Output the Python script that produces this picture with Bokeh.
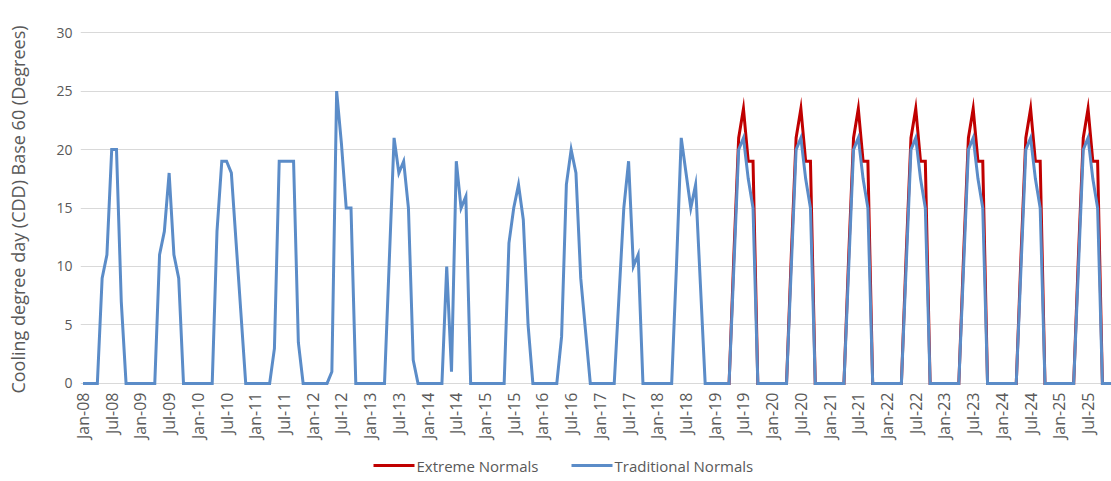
import math
from bokeh.plotting import figure
from bokeh.layouts import column
from bokeh.models import Range1d, FixedTicker
from bokeh.core.properties import value
from bokeh.embed import file_html
from bokeh.resources import INLINE

# ---------------- data ----------------
tick_labels = ["Jan-08", "Jul-08", "Jan-09", "Jul-09", "Jan-10", "Jul-10",
               "Jan-11", "Jul-11", "Jan-12", "Jul-12", "Jan-13", "Jul-13",
               "Jan-14", "Jul-14", "Jan-15", "Jul-15", "Jan-16", "Jul-16",
               "Jan-17", "Jul-17", "Jan-18", "Jul-18", "Jan-19", "Jul-19",
               "Jan-20", "Jul-20", "Jan-21", "Jul-21", "Jan-22", "Jul-22",
               "Jan-23", "Jul-23", "Jan-24", "Jul-24", "Jan-25", "Jul-25"]

# Traditional Normals, monthly CDD (Jan..Dec)
trad_2008 = [0, 0, 0, 0, 9, 11, 20, 20, 7, 0, 0, 0]
trad_2009 = [0, 0, 0, 0, 11, 13, 18, 11, 9, 0, 0, 0]
trad_2010 = [0, 0, 0, 0, 13, 19, 19, 18, 12, 6, 0, 0]
trad_2011 = [0, 0, 0, 0, 3, 19, 19, 19, 19, 3.5, 0, 0]
trad_2012 = [0, 0, 0, 0, 1, 25, 20.5, 15, 15, 0, 0, 0]
trad_2013 = [0, 0, 0, 0, 10.5, 21, 18, 19, 15, 2, 0, 0]
trad_2014 = [0, 0, 0, 0, 10, 1, 19, 15, 16, 0, 0, 0]
trad_2015 = [0, 0, 0, 0, 0, 12, 15, 17, 14, 5, 0, 0]
trad_2016 = [0, 0, 0, 0, 4, 17, 20, 18, 9, 4.5, 0, 0]
trad_2017 = [0, 0, 0, 0, 7.5, 15, 19, 10, 11, 0, 0, 0]
trad_2018 = [0, 0, 0, 0, 10, 21, 18, 15, 17, 8.5, 0, 0]
trad_2019 = [0, 0, 0, 0, 10, 20, 21, 17.5, 15, 0, 0, 0]
trad_2020 = [0, 0, 0, 0, 10, 20, 21, 17.5, 15, 0, 0, 0]
trad_2021 = [0, 0, 0, 0, 10, 20, 21, 17.5, 15, 0, 0, 0]
trad_2022 = [0, 0, 0, 0, 10, 20, 21, 17.5, 15, 0, 0, 0]
trad_2023 = [0, 0, 0, 0, 10, 20, 21, 17.5, 15, 0, 0, 0]
trad_2024 = [0, 0, 0, 0, 10, 20, 21, 17.5, 15, 0, 0, 0]
trad_2025 = [0, 0, 0, 0, 10, 20, 21, 17.5, 15, 0, 0, 0]

# Extreme Normals, monthly CDD (Jan..Dec), 2019 onward
ext_2019 = [0, 0, 0, 0, 11, 21, 23.5, 19, 19, 0, 0, 0]
ext_2020 = [0, 0, 0, 0, 11, 21, 23.5, 19, 19, 0, 0, 0]
ext_2021 = [0, 0, 0, 0, 11, 21, 23.5, 19, 19, 0, 0, 0]
ext_2022 = [0, 0, 0, 0, 11, 21, 23.5, 19, 19, 0, 0, 0]
ext_2023 = [0, 0, 0, 0, 11, 21, 23.5, 19, 19, 0, 0, 0]
ext_2024 = [0, 0, 0, 0, 11, 21, 23.5, 19, 19, 0, 0, 0]
ext_2025 = [0, 0, 0, 0, 11, 21, 23.5, 19, 19, 0, 0, 0]

series_names = ["Extreme Normals", "Traditional Normals"]
y_title = "Cooling degree day (CDD) Base 60 (Degrees)"

first_year = 2008
ext_first_year = 2019

traditional = (trad_2008 + trad_2009 + trad_2010 + trad_2011 + trad_2012 +
               trad_2013 + trad_2014 + trad_2015 + trad_2016 + trad_2017 +
               trad_2018 + trad_2019 + trad_2020 + trad_2021 + trad_2022 +
               trad_2023 + trad_2024 + trad_2025)
extreme = (ext_2019 + ext_2020 + ext_2021 + ext_2022 + ext_2023 +
           ext_2024 + ext_2025)

trad_x = list(range(len(traditional)))
ext_offset = (ext_first_year - first_year) * 12
ext_x = [ext_offset + i for i in range(len(extreme))]

# ---------------- styling ----------------
FONT = "Open Sans"
TEXT = "#595959"
RED = "#C00000"
BLUE = "#5B8CC8"
COLORS = [RED, BLUE]

p = figure(width=1111, height=447,
           x_range=Range1d(-0.52, 214.9), y_range=Range1d(-0.35, 30.1),
           output_backend="svg", toolbar_location=None,
           min_border_left=80, min_border_right=0,
           min_border_top=31, min_border_bottom=60)
p.outline_line_color = None
p.background_fill_color = "white"
p.border_fill_color = "white"

p.xgrid.visible = False
p.ygrid.grid_line_color = "#D9D9D9"
p.ygrid.grid_line_width = 1

p.yaxis.ticker = FixedTicker(ticks=[0, 5, 10, 15, 20, 25, 30])
p.yaxis.axis_line_color = None
p.yaxis.major_tick_line_color = None
p.yaxis.minor_tick_line_color = None
p.yaxis.major_tick_out = 0
p.yaxis.major_tick_in = 0
p.yaxis.major_label_standoff = 8
p.yaxis.major_label_text_font = FONT
p.yaxis.major_label_text_font_size = "14px"
p.yaxis.major_label_text_color = TEXT
p.yaxis.axis_label = y_title
p.yaxis.axis_label_text_font = FONT
p.yaxis.axis_label_text_font_size = "18px"
p.yaxis.axis_label_text_font_style = "normal"
p.yaxis.axis_label_text_color = TEXT
p.yaxis.axis_label_standoff = 23

tick_pos = [i * 6 for i in range(len(tick_labels))]
p.xaxis.ticker = FixedTicker(ticks=tick_pos)
p.xaxis.major_label_overrides = {t: lab for t, lab in zip(tick_pos, tick_labels)}
p.xaxis.major_label_orientation = math.pi / 2
p.xaxis.axis_line_color = None
p.xaxis.major_tick_line_color = None
p.xaxis.minor_tick_line_color = None
p.xaxis.major_tick_out = 0
p.xaxis.major_tick_in = 0
p.xaxis.major_label_standoff = 5
p.xaxis.major_label_text_font = FONT
p.xaxis.major_label_text_font_size = "16px"
p.xaxis.major_label_text_color = TEXT

p.line(ext_x, extreme, line_color=RED, line_width=3, line_join="miter")
p.line(trad_x, traditional, line_color=BLUE, line_width=3, line_join="miter")

# ---------------- legend strip below the chart ----------------
# its frame is aligned with the chart frame (x 80..1111 px), so use pixel units
leg = figure(width=1111, height=34, x_range=Range1d(80, 1111), y_range=Range1d(0, 34),
             output_backend="svg", toolbar_location=None,
             x_axis_type=None, y_axis_type=None,
             min_border_left=80, min_border_right=0,
             min_border_top=0, min_border_bottom=0)
leg.outline_line_color = None
leg.xgrid.visible = False
leg.ygrid.visible = False
leg_key_x0 = [373, 571]
leg_key_x1 = [414, 612]
leg_text_x = [416, 614]
leg_y = [16, 16]
leg.segment(x0=leg_key_x0, y0=leg_y, x1=leg_key_x1, y1=leg_y,
            line_color=COLORS, line_width=3)
leg.text(x=leg_text_x, y=leg_y, text=series_names,
         text_font=value(FONT), text_font_size="15px", text_color=TEXT,
         text_baseline="middle", text_align="left")

layout = column(p, leg, spacing=0)
open("out.html", "w").write(file_html(layout, INLINE))
